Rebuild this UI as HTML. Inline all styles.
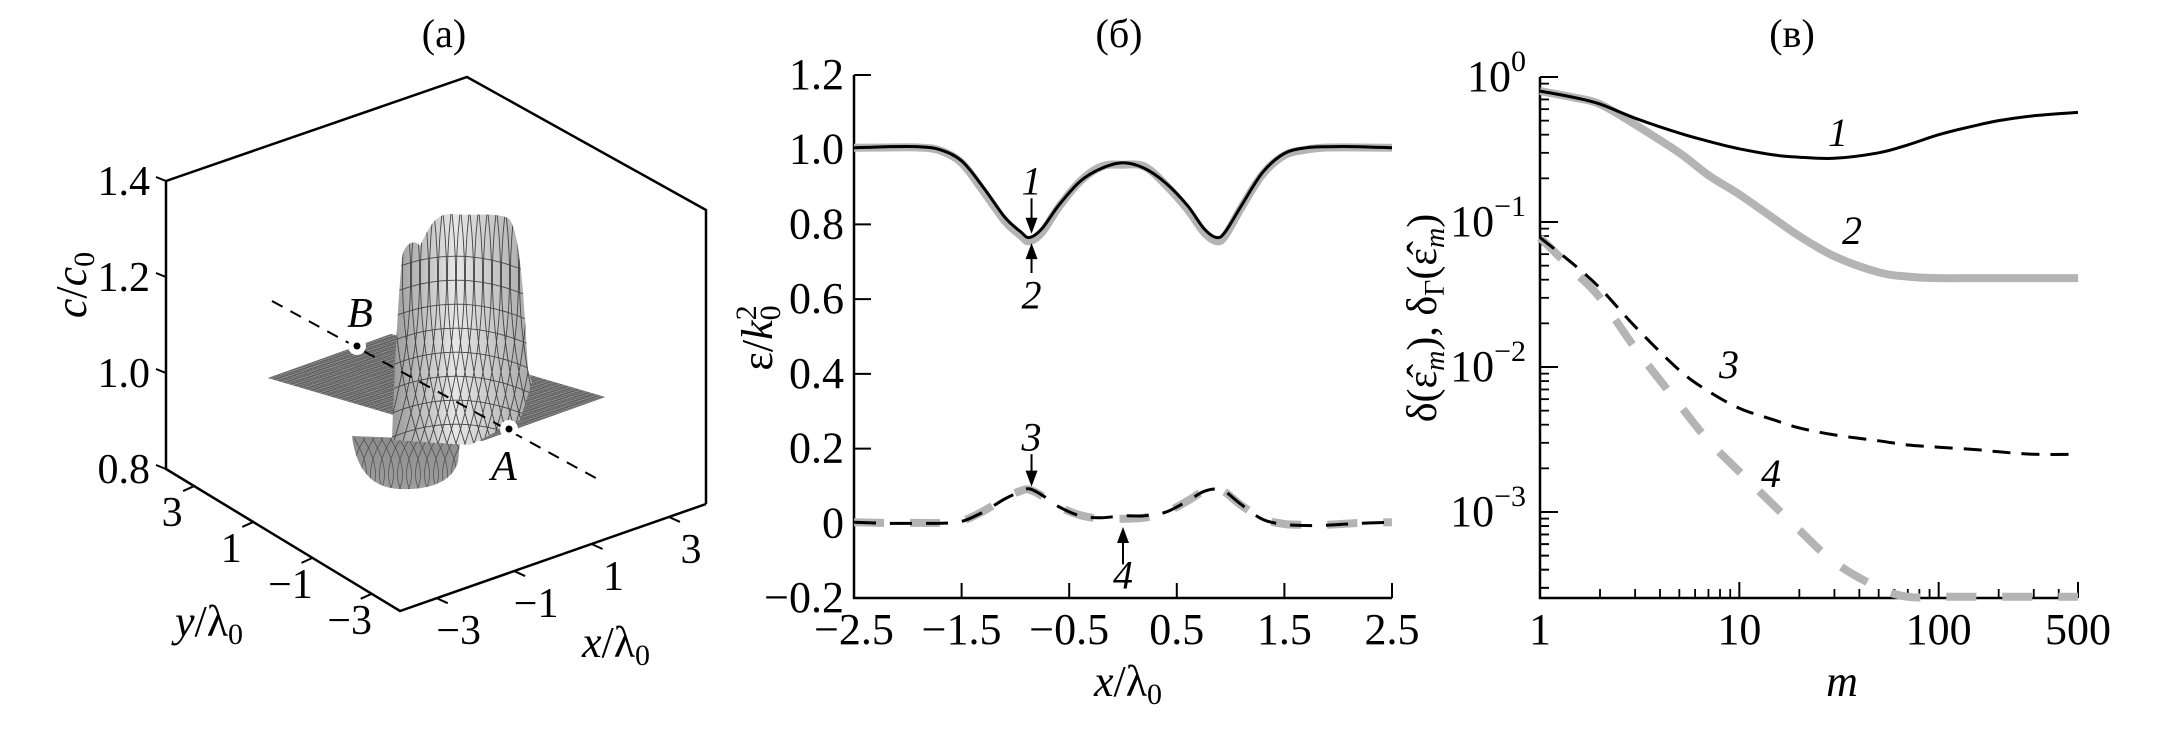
<!DOCTYPE html>
<html><head><meta charset="utf-8">
<style>
html,body{margin:0;padding:0;background:#fff;}
svg, svg text, svg tspan{font-family:"Liberation Serif","Times New Roman","DejaVu Serif",serif;}
</style></head>
<body>
<svg id="fig" width="2179" height="737" viewBox="0 0 2179 737" xmlns="http://www.w3.org/2000/svg" font-family="Liberation Serif, serif">
<defs>
  <linearGradient id="peakGrad" x1="0" y1="0" x2="1" y2="0">
    <stop offset="0" stop-color="#9a9a9a"/><stop offset="0.45" stop-color="#e6e6e6"/><stop offset="1" stop-color="#a8a8a8"/>
  </linearGradient>
  <linearGradient id="pitGrad" x1="0" y1="0" x2="0" y2="1">
    <stop offset="0" stop-color="#8c8c8c"/><stop offset="1" stop-color="#9e9e9e"/>
  </linearGradient>
  <clipPath id="peakClip"><path d="M392,440 C394,380 398,300 402,258 C404,244 414,238 420,246 C428,230 434,214 450,214 C470,216 495,212 508,218 C520,226 524,300 528,370 L532,382 L520,420 L470,445 Z"/></clipPath>
  <clipPath id="pitClip"><path d="M352,436 C356,470 372,488 400,489 C430,490 452,482 458,462 L460,440 Z"/></clipPath>
  <clipPath id="planeClip"><polygon points="268,378 391,334 605,397 482,441"/></clipPath>
</defs>

<!-- ================= Panel (a) ================= -->
<g id="panel-a">
  <text x="444" y="47" font-size="40" text-anchor="middle">(a)</text>
  <g stroke="#000" stroke-width="2.5" fill="none">
    <polyline points="166,181 467,77 706,210 706,504"/>
    <polyline points="166,181 166,469 400,611 706,504"/>
  </g>
  <g id="a-ticks" stroke="#000" stroke-width="2"></g>
  <g id="a-labels" font-size="42"></g>
  <text transform="translate(86,285) rotate(-90)" font-size="44" text-anchor="middle"><tspan font-style="italic">c</tspan>/<tspan font-style="italic">c</tspan><tspan font-size="30" dy="8">0</tspan></text>
  <text x="209" y="636" font-size="44" text-anchor="middle"><tspan font-style="italic">y</tspan>/λ<tspan font-size="30" dy="8">0</tspan></text>
  <text x="616" y="657" font-size="44" text-anchor="middle"><tspan font-style="italic">x</tspan>/λ<tspan font-size="30" dy="8">0</tspan></text>

  <g>
    <polygon points="268,378 391,334 605,397 482,441" fill="#8e8e8e"/>
    <g id="planeGrid" clip-path="url(#planeClip)" stroke="#5c5c5c" stroke-width="0.8"></g>
    <path d="M352,436 C356,470 372,488 400,489 C430,490 452,482 458,462 L460,440 Z" fill="url(#pitGrad)"/>
    <g id="pitGrid" clip-path="url(#pitClip)" stroke="#555" stroke-width="0.8" fill="none"></g>
    <path d="M392,440 C394,380 398,300 402,258 C404,244 414,238 420,246 C428,230 434,214 450,214 C470,216 495,212 508,218 C520,226 524,300 528,370 L532,382 L520,420 L470,445 Z" fill="url(#peakGrad)"/>
    <g id="peakGrid" clip-path="url(#peakClip)" stroke="#444" stroke-width="0.9" fill="none"></g>
  </g>
  <line x1="272" y1="301" x2="603" y2="482" stroke="#000" stroke-width="2" stroke-dasharray="12,9"/>
  <circle cx="357" cy="346" r="9" fill="#fff"/>
  <circle cx="357" cy="346" r="3.5" fill="#000"/>
  <circle cx="509" cy="429" r="9" fill="#fff"/>
  <circle cx="509" cy="429" r="3.5" fill="#000"/>
  <text x="360" y="327" font-size="42" font-style="italic" text-anchor="middle">B</text>
  <text x="504" y="480" font-size="42" font-style="italic" text-anchor="middle">A</text>
</g>

<!-- ================= Panel (b) ================= -->
<g id="panel-b">
  <text x="1119" y="47" font-size="40" text-anchor="middle">(б)</text>
  <g id="b-axes"></g>
  <g id="b-series"></g>
  <g id="b-annot"></g>
  <text transform="translate(772,338) rotate(-90)" font-size="44" text-anchor="middle">ε/<tspan font-style="italic">k</tspan><tspan font-size="30" dy="8">0</tspan><tspan font-size="30" dy="-24" dx="-15">2</tspan></text>
  <text x="1128" y="696" font-size="44" text-anchor="middle"><tspan font-style="italic">x</tspan>/λ<tspan font-size="30" dy="8">0</tspan></text>
</g>

<!-- ================= Panel (c) ================= -->
<g id="panel-c">
  <text x="1792" y="47" font-size="40" text-anchor="middle">(в)</text>
  <g id="c-axes"></g>
  <g id="c-series"></g>
  <text transform="translate(1436,318) rotate(-90)" font-size="42" text-anchor="middle">δ(ε̂<tspan font-size="28" dy="8" font-style="italic">m</tspan><tspan dy="-8">), δ</tspan><tspan font-size="28" dy="8">Γ</tspan><tspan dy="-8">(ε̂</tspan><tspan font-size="28" dy="8" font-style="italic">m</tspan><tspan dy="-8">)</tspan></text>
  <text x="1842" y="696" font-size="44" font-style="italic" text-anchor="middle">m</text>
</g>
</svg>

<script>
const NS = "http://www.w3.org/2000/svg";
function mk(tag, attrs, parent){ const e=document.createElementNS(NS,tag); for(const k in attrs) e.setAttribute(k,attrs[k]); if(parent) parent.appendChild(e); return e; }
function smooth(pts){
  let d='M'+pts[0][0].toFixed(1)+','+pts[0][1].toFixed(1);
  for(let i=0;i<pts.length-1;i++){
    const p0=pts[Math.max(0,i-1)],p1=pts[i],p2=pts[i+1],p3=pts[Math.min(pts.length-1,i+2)];
    const c1=[p1[0]+(p2[0]-p0[0])/6,p1[1]+(p2[1]-p0[1])/6];
    const c2=[p2[0]-(p3[0]-p1[0])/6,p2[1]-(p3[1]-p1[1])/6];
    d+=' C'+c1[0].toFixed(1)+','+c1[1].toFixed(1)+' '+c2[0].toFixed(1)+','+c2[1].toFixed(1)+' '+p2[0].toFixed(1)+','+p2[1].toFixed(1);
  }
  return d;
}

/* ---------- Panel (a) decoration ---------- */
const aZTicks = ["1.4","1.2","1.0","0.8"];
const aYTicks = ["3","1","−1","−3"];
const aXTicks = ["−3","−1","1","3"];
(function(){
  const tg=document.getElementById('a-ticks'), lg=document.getElementById('a-labels');
  aZTicks.forEach((t,i)=>{
    const y=181+i*(469-181)/3;
    const l=mk('line',{x1:166,y1:y,x2:156,y2:y-4},tg);
     
    const tx=mk('text',{x:150,y:y+14,'text-anchor':'end'},lg); tx.textContent=t;
     
  });
  aYTicks.forEach((t,i)=>{
    const f=0.12+i*0.253, x=166+f*234, y=469+f*142;
    const l=mk('line',{x1:x,y1:y,x2:x-11,y2:y+5},tg);
     
    const tx=mk('text',{x:x-22,y:y+40,'text-anchor':'middle'},lg); tx.textContent=t;
     
  });
  aXTicks.forEach((t,i)=>{
    const f=0.12+i*0.253, x=400+f*306, y=611-f*107;
    const l=mk('line',{x1:x,y1:y,x2:x+11,y2:y+5},tg);
     
    const tx=mk('text',{x:x+22,y:y+46,'text-anchor':'middle'},lg); tx.textContent=t;
     
  });
  const pg=document.getElementById('planeGrid');
  for(let i=0;i<=40;i++){const f=i/40;
    mk('line',{x1:268+f*123,y1:378-f*44,x2:482+f*123,y2:441-f*44},pg);
    mk('line',{x1:268+f*214,y1:378+f*63,x2:391+f*214,y2:334+f*63},pg);}
  const kg=document.getElementById('peakGrid');
  for(let i=0;i<16;i++){const x=392+i*9;
    mk('path',{d:`M${x-10},450 Q${x+30},330 ${x+14},205`},kg);
    mk('path',{d:`M${x+30},450 Q${x-10},330 ${x+6},205`},kg);}
  for(let j=0;j<8;j++){const y=250+j*24;
    mk('path',{d:`M390,${y+20} Q460,${y-10} 535,${y+25}`},kg);}
  const qg=document.getElementById('pitGrid');
  for(let i=0;i<14;i++){const x=345+i*9;
    mk('path',{d:`M${x},438 Q${x+20},470 ${x+8},492`},qg);
    mk('path',{d:`M${x+20},438 Q${x},470 ${x+12},492`},qg);}
})();

/* ---------- Panel (b) data ---------- */
const bX    = [-2.5,-2.2,-1.9,-1.7,-1.5,-1.3,-1.1,-0.95,-0.87,-0.75,-0.6,-0.4,-0.2,0,0.2,0.4,0.6,0.75,0.87,0.95,1.1,1.3,1.5,1.7,1.9,2.2,2.5];
const bEps1 = [1.005,1.008,1.008,1.0,0.97,0.9,0.82,0.78,0.765,0.79,0.85,0.915,0.95,0.965,0.95,0.91,0.85,0.79,0.765,0.78,0.85,0.94,0.99,1.005,1.008,1.008,1.005];
const bEps2 = [1.005,1.006,1.006,0.998,0.965,0.89,0.81,0.77,0.755,0.78,0.845,0.915,0.955,0.96,0.955,0.905,0.84,0.78,0.755,0.77,0.845,0.935,0.985,1.0,1.006,1.006,1.005];
const bEps3 = [0.003,0.0,0.0,0.0,0.005,0.03,0.065,0.085,0.092,0.075,0.045,0.02,0.015,0.02,0.02,0.03,0.06,0.085,0.092,0.085,0.05,0.01,-0.003,-0.006,-0.005,0.0,0.003];
const bEps4 = [0.003,0.001,0.001,0.001,0.006,0.032,0.067,0.087,0.09,0.073,0.045,0.022,0.012,0.012,0.015,0.03,0.06,0.086,0.09,0.083,0.048,0.012,-0.002,-0.004,-0.004,0.001,0.003];
const bXTicks = [-2.5,-1.5,-0.5,0.5,1.5,2.5];
const bXTickLabels = ["−2.5","−1.5","−0.5","0.5","1.5","2.5"];
const bYTicks = [1.2,1.0,0.8,0.6,0.4,0.2,0,-0.2];
const bYTickLabels = ["1.2","1.0","0.8","0.6","0.4","0.2","0","−0.2"];

const bL=854, bR=1392, bT=75, bB=598;
function bx(v){ return bL+(v+2.5)/5*(bR-bL); }
function by(v){ return bB-(v+0.2)/1.4*(bB-bT); }

(function(){
  const ax=document.getElementById('b-axes');
  const axl=mk('path',{d:`M${bL},${bT} L${bL},${bB} L${bR},${bB}`,fill:'none',stroke:'#000','stroke-width':2.5},ax);
   
  bYTicks.forEach((v,i)=>{
    const y=by(v);
    const t=mk('line',{x1:bL,y1:y,x2:bL+17,y2:y,stroke:'#000','stroke-width':2},ax);
     
    const tx=mk('text',{x:bL-10,y:y+14,'font-size':44,'text-anchor':'end'},ax); tx.textContent=bYTickLabels[i];
     
  });
  bXTicks.forEach((v,i)=>{
    const x=bx(v);
    const t=mk('line',{x1:x,y1:bB,x2:x,y2:bB-15,stroke:'#000','stroke-width':2},ax);
     
    const tx=mk('text',{x:x,y:644,'font-size':44,'text-anchor':'middle'},ax); tx.textContent=bXTickLabels[i];
     
  });
  const sg=document.getElementById('b-series');
  function line(vals,style,name){
    const d=smooth(vals.map((v,i)=>[bx(bX[i]),by(v)]));
    const p=mk('path',Object.assign({d:d,fill:'none','stroke-linejoin':'round'},style),sg);
     
  }
  line(bEps2,{stroke:'#b4b4b4','stroke-width':8},'curve-2');
  line(bEps1,{stroke:'#000','stroke-width':3},'curve-1');
  line(bEps4,{stroke:'#b4b4b4','stroke-width':8,'stroke-dasharray':'30,26'},'curve-4');
  line(bEps3,{stroke:'#000','stroke-width':3,'stroke-dasharray':'22,14'},'curve-3');
  const an=document.getElementById('b-annot');
  function arrow(x,y1,y2,label,ly,name){
    const X=bx(x),Y1=by(y1),Y2=by(y2);
    const l=mk('line',{x1:X,y1:Y1,x2:X,y2:Y2+(Y2>Y1?-10:10),stroke:'#000','stroke-width':2},an);
     
    const s=Y2>Y1?-1:1;
    mk('polygon',{points:`${X},${Y2} ${X-6},${Y2+s*16} ${X+6},${Y2+s*16}`,fill:'#000'},an);
    const t=mk('text',{x:X,y:by(ly),'font-size':40,'font-style':'italic','text-anchor':'middle'},an); t.textContent=label;
     
  }
  arrow(-0.85,0.87,0.775,'1',0.88,'curve-1');
  arrow(-0.85,0.67,0.75,'2',0.575,'curve-2');
  arrow(-0.85,0.185,0.098,'3',0.195,'curve-3');
  arrow(0.0,-0.11,-0.01,'4',-0.175,'curve-4');
})();

/* ---------- Panel (c) data ---------- */
const cM  = [1,1.5,2,3,5,7,10,15,20,30,50,70,100,150,200,300,500];
const cD1 = [0.8,0.72,0.65,0.52,0.41,0.36,0.32,0.29,0.28,0.275,0.3,0.34,0.4,0.46,0.5,0.54,0.57];
const cD2 = [0.8,0.72,0.65,0.47,0.3,0.21,0.155,0.105,0.08,0.058,0.045,0.042,0.041,0.041,0.041,0.041,0.041];
const cD3 = [0.078,0.05,0.035,0.019,0.0095,0.0068,0.0052,0.0043,0.0038,0.0034,0.0031,0.0029,0.0028,0.0027,0.0026,0.0025,0.0025];
const cD4 = [0.078,0.045,0.03,0.0135,0.0055,0.0031,0.0019,0.0011,0.00075,0.00045,0.0003,0.00026,0.00026,0.00026,0.00026,0.00026,0.00026];
const cXTicks = [1,10,100,500];
const cXTickLabels = ["1","10","100","500"];
const cYExps = [0,-1,-2,-3];

const cL=1540, cR=2078, cT=77, cB=598, cDec=145;
const cYmin = Math.pow(10, -(cB-cT)/cDec);
function cx(m){ return cL+Math.log10(m)/Math.log10(500)*(cR-cL); }
function cy(v){ return cT-Math.log10(Math.max(v,cYmin))*cDec; }

(function(){
  const ax=document.getElementById('c-axes');
  const axl=mk('path',{d:`M${cL},${cT} L${cL},${cB} L${cR},${cB}`,fill:'none',stroke:'#000','stroke-width':2.5},ax);
   
  cYExps.forEach(e=>{
    const y=cy(Math.pow(10,e));
    const t=mk('line',{x1:cL,y1:y,x2:cL+18,y2:y,stroke:'#000','stroke-width':2},ax);
     
    const tx=mk('text',{x:cL-14,y:y+14,'font-size':44,'text-anchor':'end'},ax);
     
    const a=mk('tspan',{},tx); a.textContent='10';
    const b=mk('tspan',{'font-size':30,dy:-20},tx); b.textContent=(e===0?'0':'−'+(-e));
    for(let k=2;k<=9;k++){
      const v=Math.pow(10,e-1)*k; const yy=cy(v);
      if(v<cYmin) continue;
      const mt=mk('line',{x1:cL,y1:yy,x2:cL+9,y2:yy,stroke:'#000','stroke-width':1.8},ax);
       
    }
  });
  for(let k=2;k<=9;k++){const v=Math.pow(10,-4)*k; if(v>=cYmin){const yy=cy(v);
    const mt=mk('line',{x1:cL,y1:yy,x2:cL+9,y2:yy,stroke:'#000','stroke-width':1.8},ax);
     }}
  cXTicks.forEach((m,i)=>{
    const x=cx(m);
    const t=mk('line',{x1:x,y1:cB,x2:x,y2:cB-16,stroke:'#000','stroke-width':2},ax);
     
    const tx=mk('text',{x:x,y:644,'font-size':44,'text-anchor':'middle'},ax); tx.textContent=cXTickLabels[i];
     
  });
  [1,10,100].forEach(d=>{for(let k=2;k<=9;k++){const m=d*k; if(m>500) break; const x=cx(m);
    const mt=mk('line',{x1:x,y1:cB,x2:x,y2:cB-9,stroke:'#000','stroke-width':1.8},ax);
     }});
  const sg=document.getElementById('c-series');
  function line(vals,style,name){
    const d=smooth(vals.map((v,i)=>[cx(cM[i]),cy(v)]));
    const p=mk('path',Object.assign({d:d,fill:'none','stroke-linejoin':'round'},style),sg);
     
  }
  line(cD2,{stroke:'#b4b4b4','stroke-width':8},'curve-2-c');
  line(cD1,{stroke:'#000','stroke-width':3},'curve-1-c');
  line(cD4,{stroke:'#b4b4b4','stroke-width':8,'stroke-dasharray':'30,26'},'curve-4-c');
  line(cD3,{stroke:'#000','stroke-width':3,'stroke-dasharray':'18,11'},'curve-3-c');
  const labs=[['1',1838,146],['2',1852,244],['3',1729,378],['4',1771,487]];
  labs.forEach(l=>{const t=mk('text',{x:l[1],y:l[2],'font-size':40,'font-style':'italic','text-anchor':'middle'},sg); t.textContent=l[0];
     });
})();
</script>
</body></html>
